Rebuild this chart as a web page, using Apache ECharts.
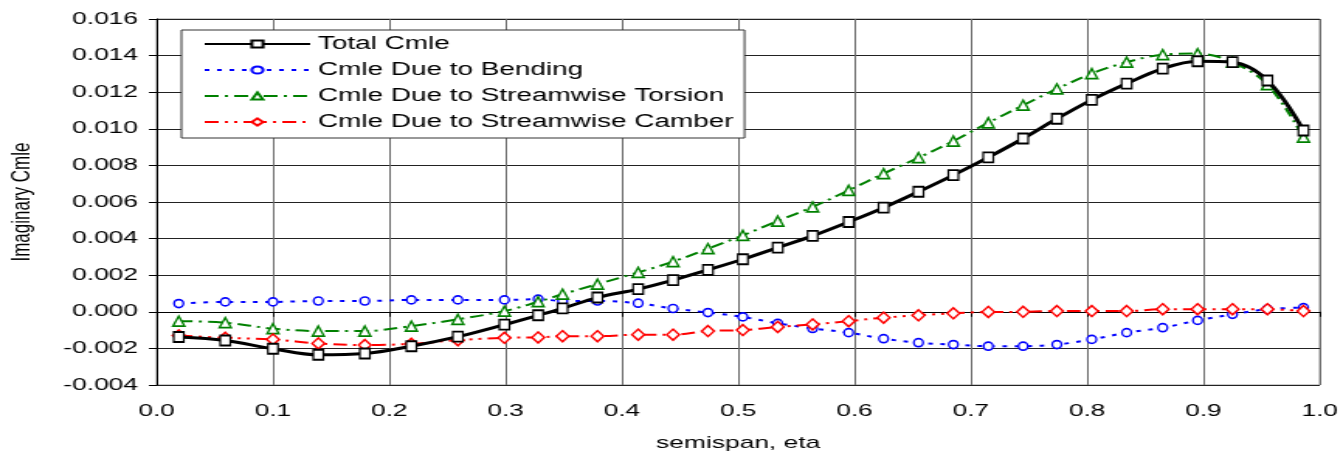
<!DOCTYPE html>
<html>
<head>
<meta charset="utf-8">
<script src="https://cdn.jsdelivr.net/npm/echarts@6/dist/echarts.min.js"></script>
<style>
  html, body { margin: 0; padding: 0; background: #fff; overflow: hidden; }
  /* the reference is stretched sideways, so the chart is drawn narrow and widened */
  #chart { width: 866px; height: 457px; transform: scaleX(1.5508); transform-origin: 0 0; }
</style>
</head>
<body>
<div id="chart"></div>
<script>
// semispan stations
const eta = [0.019, 0.059, 0.100, 0.139, 0.179, 0.219, 0.259, 0.299, 0.328, 0.349,
  0.379, 0.414, 0.444, 0.474, 0.504, 0.534, 0.564, 0.595, 0.625, 0.655,
  0.685, 0.715, 0.745, 0.774, 0.804, 0.834, 0.865, 0.895, 0.925, 0.955, 0.986]

const totalCmle = [-0.00138, -0.00157, -0.00202, -0.00235, -0.00228, -0.00188, -0.00136, -0.00070, -0.00019, 0.00019,
  0.00078, 0.00124, 0.00173, 0.00229, 0.00287, 0.00351, 0.00415, 0.00491, 0.00569, 0.00656,
  0.00747, 0.00844, 0.00947, 0.01055, 0.01158, 0.01247, 0.01329, 0.01369, 0.01364, 0.01264, 0.00991]

const bendingCmle = [0.00045, 0.00054, 0.00054, 0.00059, 0.00059, 0.00065, 0.00065, 0.00065, 0.00069, 0.00059,
  0.00059, 0.00047, 0.00018, -0.00004, -0.00028, -0.00063, -0.00091, -0.00114, -0.00147, -0.00169,
  -0.00179, -0.00188, -0.00188, -0.00179, -0.00151, -0.00114, -0.00087, -0.00047, -0.00014, 0.00014, 0.00023]

const torsionCmle = [-0.00051, -0.00059, -0.00092, -0.00105, -0.00105, -0.00078, -0.00041, 0.00004, 0.00055, 0.00096,
  0.00151, 0.00215, 0.00274, 0.00345, 0.00418, 0.00496, 0.00573, 0.00664, 0.00755, 0.00842,
  0.00933, 0.01033, 0.01129, 0.01218, 0.01302, 0.01364, 0.01405, 0.01411, 0.01364, 0.01242, 0.00955]

const camberCmle = [-0.00129, -0.00142, -0.00151, -0.00173, -0.00182, -0.00175, -0.00155, -0.00142, -0.00140, -0.00133,
  -0.00133, -0.00125, -0.00125, -0.00105, -0.00100, -0.00083, -0.00069, -0.00051, -0.00032, -0.00019,
  -0.00008, -0.00001, 0.00000, 0.00004, 0.00004, 0.00004, 0.00014, 0.00014, 0.00014, 0.00014, 0.00004]

const seriesNames = ['Total Cmle', 'Cmle Due to Bending', 'Cmle Due to Streamwise Torsion', 'Cmle Due to Streamwise Camber']

function pairs(values) {
  return eta.map(function(x, i) { return [x, values[i]] })
}

const font = 'Liberation Sans, Arial, sans-serif'
const myChart = echarts.init(document.getElementById('chart'))

myChart.setOption({
  animation: false,
  grid: {
    left: 101,
    right: 15,
    top: 19,
    bottom: 72,
    outerBoundsMode: 'none',
    show: true,
    borderColor: '#999999',
    borderWidth: 1
  },
  legend: {
    orient: 'vertical',
    left: 117,
    top: 30,
    padding: [5, 7, 7, 14],
    itemWidth: 68,
    itemHeight: 9,
    itemGap: 8,
    backgroundColor: '#ffffff',
    borderColor: '#333333',
    borderWidth: 1,
    borderRadius: 0,
    textStyle: {
      fontFamily: font,
      fontSize: 18,
      color: '#000'
    },
    data: seriesNames
  },
  xAxis: {
    type: 'value',
    min: 0,
    max: 1,
    interval: 0.1,
    name: 'semispan, eta',
    nameLocation: 'middle',
    nameGap: 50,
    nameTextStyle: { fontFamily: font, fontSize: 17, color: '#000' },
    axisLine: { lineStyle: { color: '#000', width: 1 } },
    axisTick: { show: true, length: 5, lineStyle: { color: '#000' } },
    axisLabel: {
      fontFamily: font,
      fontSize: 17,
      color: '#000',
      margin: 18,
      formatter: function(v) { return v.toFixed(1) }
    },
    splitLine: { show: true, lineStyle: { color: '#6a6a6a', width: 1 } }
  },
  yAxis: {
    type: 'value',
    min: -0.004,
    max: 0.016,
    interval: 0.002,
    name: 'Imaginary Cmle',
    nameLocation: 'middle',
    nameRotate: 90,
    nameGap: 78,
    nameTextStyle: { fontFamily: font, fontSize: 17, color: '#000' },
    axisLine: { show: true, lineStyle: { color: '#000', width: 1 } },
    axisTick: { show: true, length: 5, lineStyle: { color: '#000' } },
    axisLabel: {
      fontFamily: font,
      fontSize: 17,
      color: '#000',
      margin: 12,
      formatter: function(v) { return v.toFixed(3) }
    },
    splitLine: { show: true, lineStyle: { color: '#222222', width: 1 } }
  },
  series: [
    {
      name: seriesNames[0],
      type: 'line',
      data: pairs(totalCmle),
      smooth: 0.35,
      z: 5,
      symbol: 'rect',
      symbolSize: [6.5, 10],
      lineStyle: { color: '#000000', width: 3 },
      itemStyle: { color: '#ffffff', borderColor: '#000000', borderWidth: 1.5 }
    },
    {
      name: seriesNames[1],
      type: 'line',
      data: pairs(bendingCmle),
      smooth: 0.35,
      symbol: 'circle',
      symbolSize: [6, 8],
      lineStyle: { color: '#0000ff', width: 2, type: [3, 5] },
      itemStyle: { color: '#ffffff', borderColor: '#0000ff', borderWidth: 1.5 }
    },
    {
      name: seriesNames[2],
      type: 'line',
      data: pairs(torsionCmle),
      smooth: 0.35,
      symbol: 'triangle',
      symbolSize: [7.5, 10],
      lineStyle: { color: '#008000', width: 2, type: [9, 4, 2, 4] },
      itemStyle: { color: '#ffffff', borderColor: '#008000', borderWidth: 1.5 }
    },
    {
      name: seriesNames[3],
      type: 'line',
      data: pairs(camberCmle),
      smooth: 0.35,
      symbol: 'diamond',
      symbolSize: [8, 11],
      lineStyle: { color: '#ff0000', width: 2, type: [9, 4, 2, 4, 2, 4] },
      itemStyle: { color: '#ffffff', borderColor: '#ff0000', borderWidth: 1.5 }
    }
  ]
})
</script>
</body>
</html>
